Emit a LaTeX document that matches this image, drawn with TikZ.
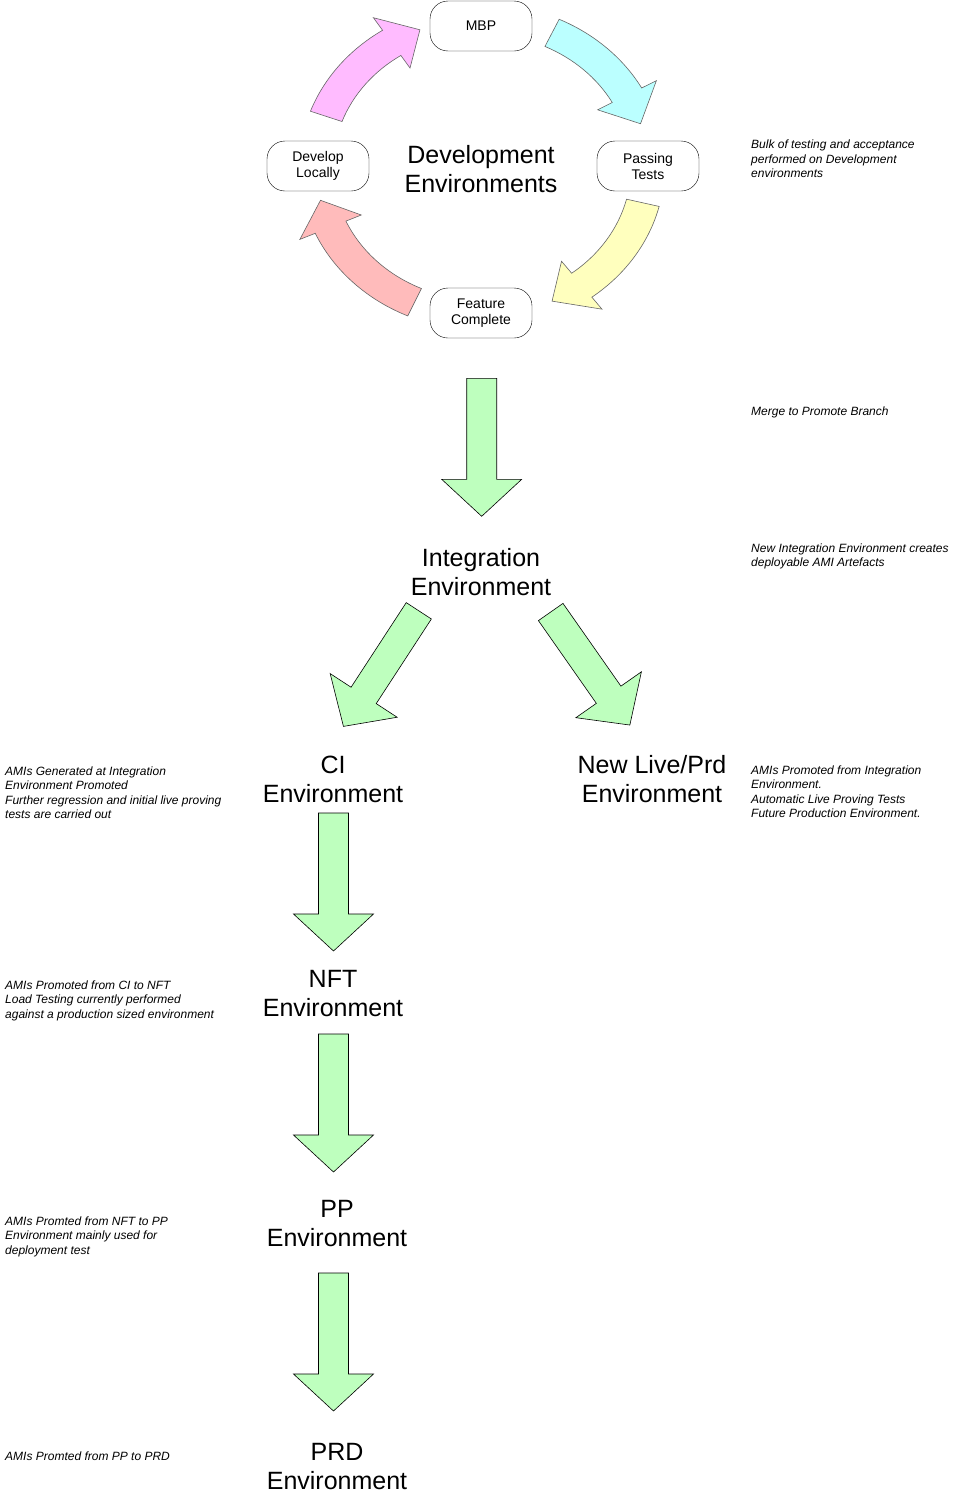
\documentclass[tikz,border=0pt]{standalone}
\usepackage{fontspec}
\setmainfont{Liberation Sans}

\definecolor{pinkfill}{RGB}{255,187,255}
\definecolor{cyanfill}{RGB}{187,255,255}
\definecolor{yellowfill}{RGB}{255,255,190}
\definecolor{salmonfill}{RGB}{255,187,187}
\definecolor{greenfill}{RGB}{190,255,190}

% curved arrow of the development cycle: colour, tail angle, head angle, tip angle
\newcommand{\cyclearrow}[4]{%
    \filldraw[cycle arrow=#1] (#2:163) arc[start angle=#2, end angle=#3, radius=163]
        -- (#3:178) -- (#4:148) -- (#3:118) -- (#3:133)
        arc[start angle=#3, end angle=#2, radius=133] -- cycle;}

\begin{document}
\begin{tikzpicture}
[
    x=1pt, y=1pt,
    box/.style={draw, rounded corners=18pt, minimum width=102pt, minimum height=50pt,
        align=center, font=\fontsize{14}{16}\selectfont},
    env/.style={align=center, inner sep=0pt, font=\fontsize{25}{29}\selectfont},
    note/.style={anchor=north west, align=left, inner sep=0pt,
        font=\fontsize{12}{14.3}\selectfont\itshape},
    cycle arrow/.style={draw=black!60, line width=0.6pt, fill=#1},
    flow arrow/.pic={
        \draw[fill=greenfill, line width=0.6pt] (-15,0) -- (-15,-101) -- (-40,-101)
            -- (0,-138) -- (40,-101) -- (15,-101) -- (15,0) -- cycle;
    }
]
    \useasboundingbox (0,0) rectangle (972,-1502);

    \begin{scope}[shift={(482,-167)}, xscale=1.12]
        \cyclearrow{cyanfill}{65}{29}{17}
        \cyclearrow{yellowfill}{-14}{-53}{-65}
        \cyclearrow{salmonfill}{-114}{-156}{-167}
        \cyclearrow{pinkfill}{160}{123}{112}
    \end{scope}

    \node [box] (mbp) at (481,-26) {MBP};
    \node [box] (develop) at (318,-166) {Develop\\Locally};
    \node [box] (passing) at (648,-166) {Passing\\Tests};
    \node [box] (feature) at (481,-313) {Feature\\Complete};
    \node [env] (devenv) at (481,-169) {Development\\Environments};

    \pic at (481.7,-378.3) {flow arrow};
    \node [env] (integ) at (481,-572) {Integration\\Environment};
    \pic [rotate=-33.1] at (418.8,-610.8) {flow arrow};
    \pic [rotate=35] at (550.7,-612) {flow arrow};

    \node [env] (ci) at (333,-779) {CI\\Environment};
    \node [env] (live) at (652,-779) {New Live/Prd\\Environment};
    \pic at (333.5,-813) {flow arrow};
    \node [env] (nft) at (333,-994) {NFT\\Environment};
    \pic at (333.5,-1034) {flow arrow};
    \node [env] (pp) at (337,-1224) {PP\\Environment};
    \pic at (333.5,-1273) {flow arrow};
    \node [env] (prd) at (337,-1467) {PRD\\Environment};

    \node [note] (devnote) at (751,-140) {Bulk of testing and acceptance\\performed on Development\\environments};
    \node [note] (mergenote) at (751,-406.7) {Merge to Promote Branch};
    \node [note] (integnote) at (751,-543.7) {New Integration Environment creates\\deployable AMI Artefacts};
    \node [note] (cinote) at (5,-766.7) {AMIs Generated at Integration\\Environment Promoted\\Further regression and initial live proving\\tests are carried out};
    \node [note] (livenote) at (751,-765.7) {AMIs Promoted from Integration\\Environment.\\Automatic Live Proving Tests\\Future Production Environment.};
    \node [note] (nftnote) at (5,-980.7) {AMIs Promoted from CI to NFT\\Load Testing currently performed\\against a production sized environment};
    \node [note] (ppnote) at (5,-1216.7) {AMIs Promted from NFT to PP\\Environment mainly used for\\deployment test};
    \node [note] (prdnote) at (5,-1451.7) {AMIs Promted from PP to PRD};
\end{tikzpicture}
\end{document}
